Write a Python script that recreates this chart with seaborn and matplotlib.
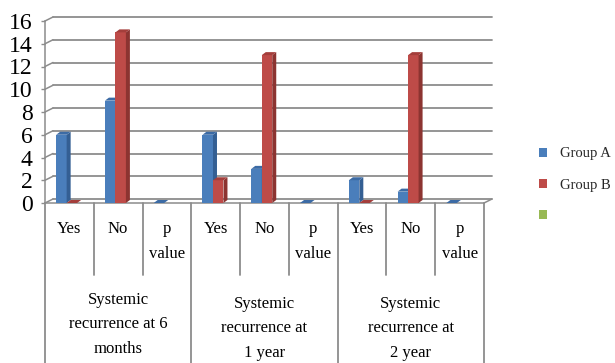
import numpy as np
import pandas as pd
import matplotlib
matplotlib.use("Agg")
import matplotlib.pyplot as plt
import matplotlib.transforms as mtransforms
from matplotlib.patches import Polygon, Patch
import seaborn as sns

# ---- data ----
groups = ["Systemic\nrecurrence at 6\nmonths",
          "Systemic\nrecurrence at\n1 year",
          "Systemic\nrecurrence at\n2 year"]
subcats = ["Yes", "No", "p\nvalue"]
series = ["Group A", "Group B", " "]
group_a = [6, 9, 0, 6, 3, 0, 2, 1, 0]
group_b = [0, 15, np.nan, 2, 13, np.nan, 0, 13, np.nan]
group_c = [np.nan] * 9
yticks = [0, 2, 4, 6, 8, 10, 12, 14, 16]

colors = ["#4A7EBB", "#BE4B48", "#98B954"]
side_colors = ["#345F93", "#8C3431", "#71893D"]
top_colors = ["#3C6BA5", "#A43E3B", "#7FA047"]
grid_color = "#8C8C8C"

slots = [f"{g}|{s}" for g in range(len(groups)) for s in range(len(subcats))]
df = pd.DataFrame({
    "slot": slots * 3,
    "series": [series[0]] * 9 + [series[1]] * 9 + [series[2]] * 9,
    "value": group_a + group_b + group_c,
})

sns.set_theme(style="white")
plt.rcParams["font.family"] = ["Liberation Serif", "DejaVu Serif"]

W, H = 615, 363
fig = plt.figure(figsize=(W / 100, H / 100), dpi=100)
ax = fig.add_axes([45 / W, (H - 203) / H, 439 / W, 182 / H])

sns.barplot(data=df, x="slot", y="value", hue="series", order=slots,
            hue_order=series, palette=colors, width=0.645, saturation=1,
            errorbar=None, linewidth=0, legend=False, ax=ax, zorder=3)
ax.set_xlim(-0.5, 8.5)
ax.set_ylim(0, 16)

# pixel -> data conversion
p0 = ax.transData.transform((0, 0))
p1 = ax.transData.transform((1, 1))
px_x, px_y = p1[0] - p0[0], p1[1] - p0[1]

# back wall grid lines shifted in depth
gdx, gdy = 8 / px_x, 4 / px_y
for t in yticks:
    ax.plot([-0.5 + gdx, 8.5 + gdx], [t + gdy, t + gdy], color=grid_color,
            lw=1.3, clip_on=False, zorder=1)
    ax.plot([-0.5, -0.5 + gdx], [t, t + gdy], color=grid_color,
            lw=1.1, clip_on=False, zorder=1)
ax.plot([8.5, 8.5 + gdx], [0, gdy], color=grid_color, lw=1.1,
        clip_on=False, zorder=1)

# bars sit slightly right of the slot centre (perspective)
bar_trans = ax.transData + mtransforms.ScaledTranslation(
    2.5 / 100, 0, fig.dpi_scale_trans)

# 3D side and top faces on every bar
bdx, bdy = 4 / px_x, 3 / px_y
def idx_of(patch):
    fc = patch.get_facecolor()
    for i, c in enumerate(colors):
        if np.allclose(fc[:3], matplotlib.colors.to_rgb(c), atol=0.02):
            return i
    return 0

for patch in list(ax.patches):
    i = idx_of(patch)
    x0 = patch.get_x()
    x1 = x0 + patch.get_width()
    h = patch.get_height()
    if np.isnan(h):
        continue
    z = 3 + i * 0.2
    patch.set_zorder(z)
    patch.set_transform(bar_trans)
    side = Polygon([(x1, 0), (x1 + bdx, bdy), (x1 + bdx, h + bdy), (x1, h)],
                   closed=True, facecolor=side_colors[i], edgecolor="none",
                   zorder=z + 0.1, transform=bar_trans)
    top = Polygon([(x0, h), (x1, h), (x1 + bdx, h + bdy), (x0 + bdx, h + bdy)],
                  closed=True, facecolor=top_colors[i], edgecolor="none",
                  zorder=z + 0.1, transform=bar_trans)
    ax.add_patch(side)
    ax.add_patch(top)

# axes styling
for s in ["top", "right"]:
    ax.spines[s].set_visible(False)
for s in ["left", "bottom"]:
    ax.spines[s].set_color(grid_color)
    ax.spines[s].set_linewidth(1.1)
ax.set_yticks(yticks)
ax.tick_params(axis="y", left=True, length=3, width=1, color=grid_color,
               labelsize=17, pad=6, labelcolor="black")
ax.tick_params(axis="x", bottom=False, labelbottom=False)
ax.set_xlabel("")
ax.set_ylabel("")
ax.grid(False)

# category table below the floor
trans = mtransforms.blended_transform_factory(ax.transData, fig.transFigure)
fy = lambda ypx: 1 - ypx / H
for k in range(len(slots) + 1):
    x = k - 0.5
    bottom = H if k % len(subcats) == 0 else 275
    ax.plot([x, x], [fy(203), fy(bottom)], transform=trans, color=grid_color,
            lw=1.3, clip_on=False)

for k, slot in enumerate(slots):
    lab = subcats[k % len(subcats)]
    for j, line in enumerate(lab.split("\n")):
        ax.text(k, fy(229 + 25 * j), line, transform=trans, ha="center",
                va="center", fontsize=12, color="black")

group_top = [300, 304, 304]
for g, lab in enumerate(groups):
    xc = g * len(subcats) + (len(subcats) - 1) / 2
    for j, line in enumerate(lab.split("\n")):
        ax.text(xc, fy(group_top[g] + 24.5 * j), line, transform=trans,
                ha="center", va="center", fontsize=12, color="black")

handles = [Patch(facecolor=c, edgecolor="none") for c in colors]
fig.legend(handles=handles, labels=series, loc="center left",
           bbox_to_anchor=(539 / W, fy(185)), frameon=False, fontsize=10.5,
           handlelength=0.55, handleheight=0.55, handletextpad=0.9,
           labelspacing=1.25, borderpad=0, borderaxespad=0)

fig.savefig("out.png", dpi=100)
